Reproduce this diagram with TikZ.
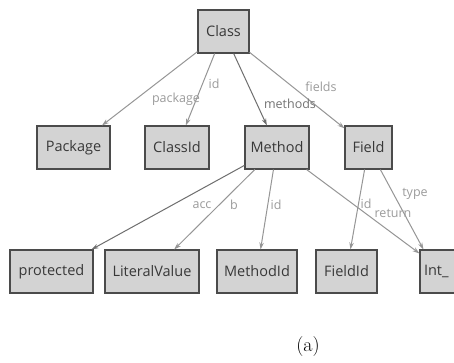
\documentclass[tikz,border=0pt]{standalone}
\usepackage{fontspec}
\setsansfont{Open Sans}
\usetikzlibrary{arrows.meta}
\definecolor{boxfill}{RGB}{211,211,211}
\definecolor{boxline}{RGB}{75,75,75}
\definecolor{edgelight}{RGB}{150,150,150}
\definecolor{edgedark}{RGB}{110,110,110}
\definecolor{lbllight}{RGB}{155,155,155}
\definecolor{lbldark}{RGB}{115,115,115}
\tikzset{
  x=1pt, y=-1pt,
  box/.style={draw=boxline, fill=boxfill, line width=1.1pt, minimum height=43pt,
    inner sep=0pt, font=\sffamily\fontsize{14.5}{16}\selectfont, text=black!78},
  edge/.style={draw=edgelight, line width=1pt, -{Stealth[length=7pt,width=4.5pt]}},
  edgedk/.style={edge, draw=edgedark},
  lbl/.style={font=\sffamily\fontsize{12.5}{14}\selectfont, text=lbllight, inner sep=0pt},
  lbldk/.style={lbl, text=lbldark},
}
\begin{document}
\begin{tikzpicture}
\useasboundingbox[fill=white] (0,0) rectangle (454,363);
\begin{scope}
\clip (0,0) rectangle (454,363);
\node[box, minimum width=51pt] (class) at (223.5,31.5) {Class};
\node[box, minimum width=73pt] (package) at (73.5,147.5) {Package};
\node[box, minimum width=64pt] (classid) at (177,147.5) {ClassId};
\node[box, minimum width=64pt] (method) at (277,147.5) {Method};
\node[box, minimum width=47pt] (field) at (368.5,147.5) {Field};
\node[box, minimum width=83pt] (protected) at (51.5,271.5) {protected};
\node[box, minimum width=94pt] (literal) at (152,271.5) {LiteralValue};
\node[box, minimum width=80pt] (methodid) at (257,271.5) {MethodId};
\node[box, minimum width=61pt] (fieldid) at (346.5,271.5) {FieldId};
\node[box, minimum width=50pt, text width=42pt, align=left] (int) at (445,271.5) {Int\_};

\draw[edge] (class) -- (package);
\draw[edge] (class) -- (classid);
\draw[edgedk] (class) -- (method);
\draw[edge] (class) -- (field);
\draw[edgedk] (method) -- (protected);
\draw[edge] (method) -- (literal);
\draw[edge] (method) -- (methodid);
\draw[edge] (method) -- ([yshift=-4pt]int.north west);
\draw[edge] (field) -- (fieldid);
\draw[edge] (field) -- ([xshift=4pt]int.north west);
\end{scope}

\node[lbl] (lpackage) at (176,99) {package};
\node[lbl] (lcid) at (214,84) {id};
\node[lbldk] (lmethods) at (290,104) {methods};
\node[lbl] (lfields) at (321,87) {fields};
\node[lbl] (lacc) at (202,205) {acc};
\node[lbl] (lb) at (234,205) {b};
\node[lbl] (lmid) at (276,205) {id};
\node[lbl] (lfid) at (366,204) {id};
\node[lbl] (lreturn) at (393,213) {return};
\node[lbl] (ltype) at (415,194) {type};

\node[font=\fontsize{20}{24}\selectfont, inner sep=0pt] (caption) at (308,347) {(a)};
\end{tikzpicture}
\end{document}
